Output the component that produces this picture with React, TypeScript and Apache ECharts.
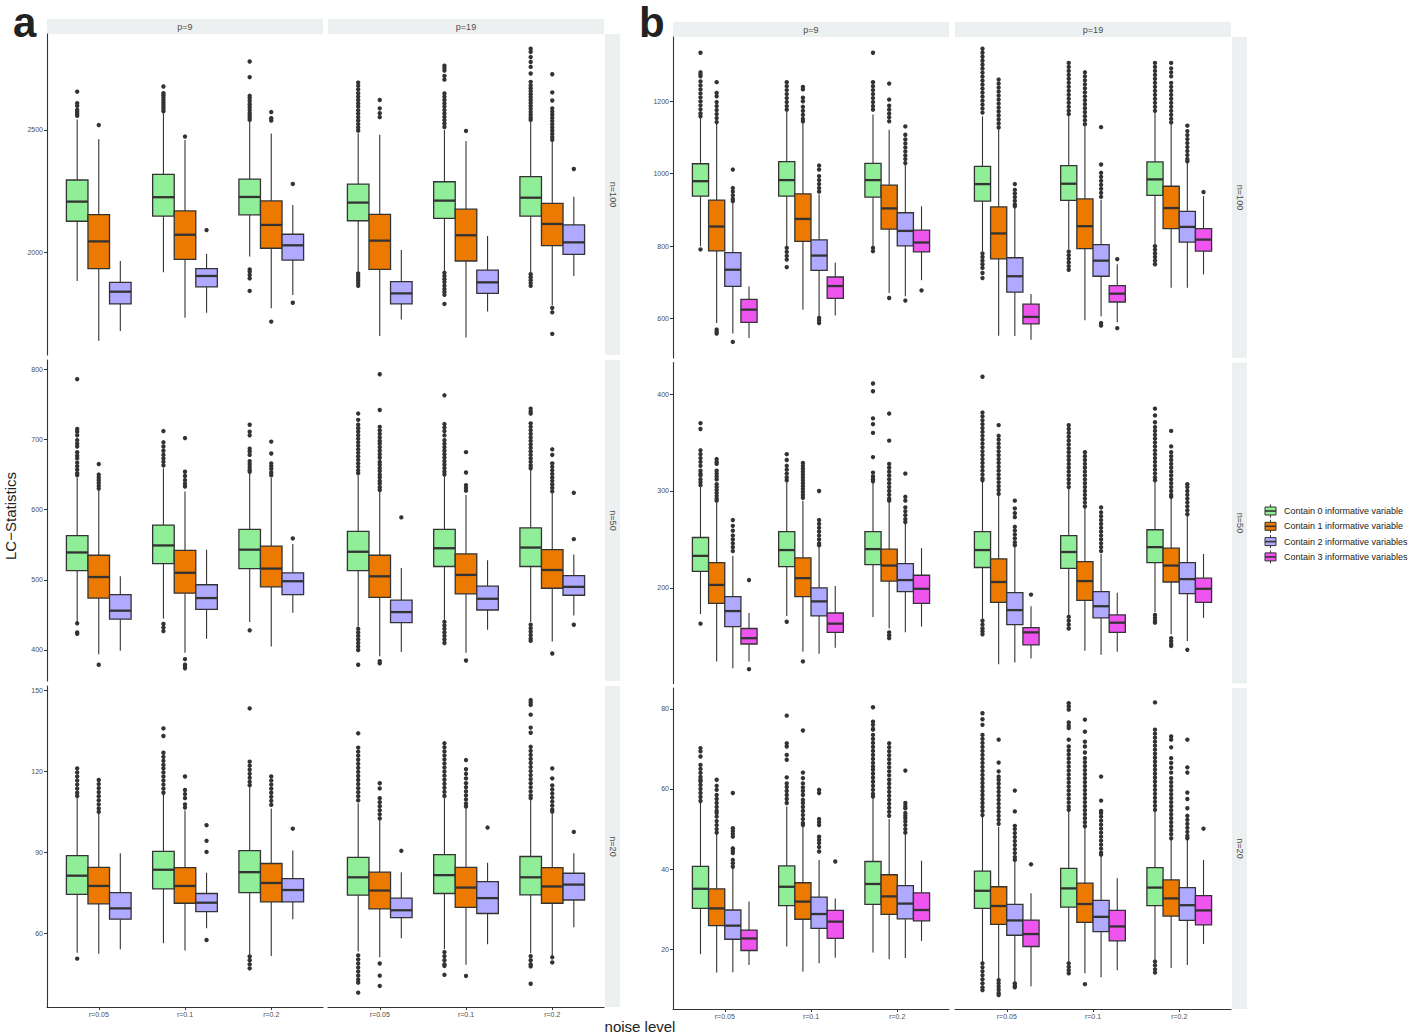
import React, { useEffect, useRef } from "react";
import * as echarts from "echarts";

// ---------------- DATA ----------------
const noiseLevels = ["r=0.05", "r=0.1", "r=0.2"];
const pLabels = ["p=9", "p=19"];
const nLabels = ["n=100", "n=50", "n=20"];
const groupNames = [
  "Contain 0 informative variable",
  "Contain 1 informative variable",
  "Contain 2 informative variables",
  "Contain 3 informative variables",
];
const groupColors = ["#90EE98", "#EC7A00", "#AFAAFF", "#EE55EE"];

const aYRanges = [[1583, 2891], [355.8, 813.3], [32.7, 151.5]];
const bYRanges = [[491.7, 1376.4], [101.2, 432.7], [5.1, 85.2]];
const aYTicks = [[2000, 2500], [400, 500, 600, 700, 800], [60, 90, 120, 150]];
const bYTicks = [[600, 800, 1000, 1200], [200, 300, 400], [20, 40, 60, 80]];

// box = [lower whisker, Q1, median, Q3, upper whisker]; one array per group, one box per noise level
const aN100P9Box = [
  [[1885, 2128, 2208, 2296, 2543], [1920, 2149, 2226, 2319, 2568], [1984, 2154, 2227, 2300, 2534]],
  [[1641, 1935, 2046, 2155, 2462], [1735, 1973, 2073, 2170, 2459], [1773, 2018, 2113, 2211, 2486]],
  [[1681, 1791, 1841, 1879, 1966], [1755, 1861, 1905, 1935, 1995], [1827, 1970, 2030, 2075, 2194]],
];
const aN100P9Out = [
  [[2656, 2609, 2598, 2582, 2574, 2566, 2558], [2677, 2650, 2641, 2632, 2622, 2612, 2603, 2594, 2585, 2576], [2779, 2715, 2639, 2630, 2618, 2605, 2594, 2582, 2570, 2560, 2550, 2541, 1932, 1923, 1909, 1895, 1844]],
  [[2520], [2473], [2573, 2548, 2538, 1719]],
  [[], [2092], [2280, 1796]],
];
const aN100P19Box = [
  [[1923, 2130, 2204, 2279, 2486], [1925, 2140, 2212, 2289, 2500], [1918, 2149, 2224, 2310, 2534]],
  [[1660, 1932, 2049, 2156, 2480], [1654, 1966, 2071, 2177, 2455], [1786, 2029, 2117, 2201, 2453]],
  [[1728, 1791, 1834, 1882, 2011], [1760, 1834, 1879, 1929, 2068], [1905, 1993, 2042, 2113, 2228]],
];
const aN100P19Out = [
  [[2693, 2680, 2665, 2650, 2636, 2622, 2608, 2595, 2580, 2566, 2552, 2538, 2524, 2510, 2497, 1915, 1905, 1895, 1885, 1875, 1865],
   [2762, 2752, 2742, 2720, 2705, 2649, 2636, 2622, 2608, 2595, 2581, 2567, 2553, 2540, 2526, 2512, 1918, 1905, 1892, 1880, 1866, 1852, 1840, 1828, 1791],
   [2831, 2818, 2797, 2777, 2757, 2730, 2696, 2682, 2670, 2658, 2646, 2634, 2622, 2610, 2598, 2586, 2574, 2562, 2550, 2541, 1912, 1900, 1888, 1876, 1865]],
  [[2622, 2588, 2568, 2552], [2496], [2727, 2653, 2620, 2588, 2575, 2562, 2549, 2536, 2523, 2510, 2497, 2484, 2471, 2460, 1775, 1757, 1669]],
  [[], [], [2341]],
];
const aN50P9Box = [
  [[440, 513, 539, 563, 645], [445, 523, 549, 578, 659], [440, 516, 543, 572, 652]],
  [[394, 474, 504, 535, 628], [396, 481, 510, 542, 626], [405, 490, 516, 548, 645]],
  [[399, 444, 456, 479, 505], [416, 458, 474, 493, 543], [453, 479, 498, 510, 551]],
];
const aN50P9Out = [
  [[786, 715, 711, 706, 699, 694, 690, 682, 677, 673, 667, 662, 657, 652, 649, 438, 425, 423], [712, 696, 690, 684, 678, 673, 668, 663, 437, 432, 427], [721, 711, 706, 687, 683, 678, 669, 665, 661, 657, 654, 428]],
  [[665, 650, 646, 642, 638, 634, 630, 379], [702, 654, 648, 642, 637, 633, 387, 379, 376, 374], [697, 680, 666, 662, 658, 653, 649]],
  [[], [], [559]],
];
const aN50P19Box = [
  [[433, 513, 540, 569, 649], [443, 519, 545, 572, 647], [440, 519, 546, 574, 657]],
  [[391, 475, 505, 535, 626], [396, 480, 507, 537, 621], [412, 488, 514, 543, 623]],
  [[397, 439, 454, 471, 517], [429, 457, 473, 491, 528], [449, 478, 490, 506, 536]],
];
const aN50P19Out = [
  [[737, 728, 721, 716, 711, 706, 701, 696, 691, 686, 681, 676, 671, 666, 661, 656, 652, 430, 425, 420, 415, 410, 405, 400, 379],
   [763, 722, 717, 712, 706, 699, 694, 689, 684, 679, 674, 669, 664, 659, 654, 650, 440, 435, 430, 425, 420, 415, 410],
   [744, 740, 737, 723, 718, 713, 708, 703, 698, 693, 688, 683, 678, 673, 668, 663, 659, 436, 431, 426, 421, 416, 413]],
  [[793, 742, 718, 713, 708, 703, 698, 694, 689, 684, 679, 674, 668, 664, 659, 655, 650, 646, 641, 637, 632, 628, 384, 381],
   [682, 653, 635, 631, 627, 385],
   [686, 678, 666, 661, 656, 651, 646, 641, 636, 631, 626, 395]],
  [[589], [], [624, 558, 436]],
];
const aN20P9Box = [
  [[52.8, 74.4, 81.3, 88.7, 110], [56.3, 76.4, 83.5, 90.3, 111.2], [52, 75, 82.6, 90.6, 114.3]],
  [[52.4, 70.9, 77.5, 84.4, 104.4], [53.6, 71.1, 77.5, 84.3, 105.4], [51.6, 71.6, 78.6, 85.8, 106.2]],
  [[54.1, 65.2, 69.2, 75, 89.6], [61.8, 68, 71.3, 74.7, 82.4], [65.2, 71.6, 76, 80.2, 90.6]],
];
const aN20P9Out = [
  [[121, 119.5, 118, 116.5, 115, 113.5, 112, 110.8, 50.6], [135.8, 133, 126.8, 125.3, 123.8, 122.3, 121, 119.5, 118, 116.5, 115, 113.5, 112], [143.2, 123.5, 122, 120.5, 119, 117.5, 116, 114.8, 51.4, 50, 48.5, 47]],
  [[116.7, 115.2, 113.7, 112.2, 110.7, 109.2, 107.7, 106.2, 104.9], [118, 113, 111.5, 110, 107.7, 106.5], [118, 116.5, 115, 113.5, 112, 110.5, 109, 107.5]],
  [[], [100, 94.2, 90.1, 57.5], [98.7]],
];
const aN20P19Box = [
  [[53.2, 74.1, 80.7, 88.1, 108.1], [54.1, 74.7, 81.5, 89.1, 110], [52.6, 74.2, 80.7, 88.4, 109.3]],
  [[51.1, 69, 75.8, 82.6, 101.9], [48.3, 69.6, 76.9, 84.4, 106.2], [51.6, 71.1, 77.3, 84.3, 104.4]],
  [[58.1, 65.8, 68.5, 73, 82.6], [55.9, 67.3, 73, 79.1, 86.1], [62.2, 72.3, 78, 82.2, 89.6]],
];
const aN20P19Out = [
  [[134, 128.7, 127.2, 125.7, 124.2, 122.7, 121.2, 119.7, 118.2, 116.7, 115.2, 113.7, 112.2, 110.7, 109.2, 51.8, 50.3, 48.8, 47.3, 45.8, 44.3, 42.8, 41.7, 38],
   [130.3, 128.8, 127.3, 125.8, 124.3, 122.8, 121.3, 119.8, 118.3, 116.8, 115.3, 113.8, 112.3, 110.8, 53, 51.5, 50, 48.5, 47.9, 44.6],
   [146.3, 145.4, 144.5, 140.9, 136.1, 134.2, 129, 127.5, 126, 124.5, 123, 121.5, 120, 118.5, 117, 115.5, 114, 112.5, 111, 110, 51.5, 50, 48.5, 47.7, 41.3]],
  [[115.5, 113.6, 110, 108.5, 107, 105.5, 104, 102.5, 48.8, 44.3, 40.5],
   [124.1, 120.7, 119, 117.3, 115.5, 114, 112.5, 111, 109.5, 108, 106.9, 44.2],
   [121, 117.3, 114.7, 113.2, 111.7, 110.2, 108.7, 107.2, 105.7, 105, 51.1, 49.2]],
  [[90.5], [99.1], [97.5]],
];
const bN100P9Box = [
  [[800, 938, 979, 1027, 1156], [800, 938, 982, 1033, 1172], [800, 935, 982, 1028, 1163]],
  [[588, 787, 854, 927, 1138], [625, 813, 875, 944, 1140], [671, 847, 904, 968, 1121]],
  [[559, 689, 735, 782, 919], [607, 733, 774, 817, 942], [662, 801, 842, 892, 1025]],
  [[547, 590, 625, 653, 689], [609, 656, 690, 715, 754], [706, 784, 810, 844, 910]],
];
const bN100P9Out = [
  [[1333, 1279, 1273, 1268, 1254, 1243, 1232, 1221, 1210, 1199, 1188, 1177, 1166, 1158, 791], [1252, 1241, 1230, 1219, 1208, 1197, 1186, 1176, 795, 784, 773, 763, 742], [1333, 1252, 1241, 1230, 1219, 1208, 1197, 1186, 1176, 795, 786]],
  [[1252, 1222, 1213, 1197, 1186, 1175, 1164, 1153, 1142, 570, 564, 559], [1239, 1232, 1209, 1199, 1184, 1173, 1162, 1151, 1144], [1248, 1204, 1187, 1176, 1165, 1155, 1144, 657]],
  [[1011, 960, 950, 940, 930, 924, 536], [1022, 1011, 993, 982, 971, 960, 950, 602, 595, 588], [1130, 1107, 1094, 1083, 1072, 1061, 1050, 1040, 1029, 650]],
  [[], [], [678]],
];
const bN100P19Box = [
  [[786, 924, 971, 1020, 1158], [791, 926, 972, 1022, 1158], [804, 940, 984, 1032, 1167]],
  [[553, 765, 835, 908, 1121], [596, 793, 855, 930, 1130], [685, 848, 905, 965, 1138]],
  [[552, 673, 717, 768, 905], [607, 717, 760, 804, 928], [685, 811, 853, 896, 1029]],
  [[542, 586, 605, 640, 668], [590, 646, 669, 691, 750], [722, 786, 818, 848, 938]],
];
const bN100P19Out = [
  [[1344, 1333, 1322, 1311, 1300, 1289, 1278, 1267, 1256, 1245, 1234, 1223, 1212, 1201, 1190, 1179, 1168, 780, 770, 760, 750, 740, 726, 712],
   [1305, 1294, 1283, 1272, 1261, 1250, 1239, 1228, 1217, 1206, 1195, 1184, 1173, 1164, 785, 775, 765, 755, 745, 735],
   [1305, 1294, 1283, 1272, 1261, 1250, 1239, 1228, 1217, 1206, 1195, 1184, 1173, 800, 790, 780, 770, 760, 750]],
  [[1259, 1248, 1237, 1226, 1215, 1204, 1193, 1182, 1171, 1160, 1149, 1138, 1127],
   [1279, 1268, 1257, 1246, 1235, 1224, 1213, 1202, 1191, 1180, 1169, 1158, 1147, 1136],
   [1305, 1290, 1279, 1268, 1250, 1239, 1228, 1217, 1206, 1195, 1184, 1173, 1162, 1151, 1141]],
  [[971, 955, 945, 935, 925, 915, 910], [1128, 1025, 1002, 991, 980, 969, 958, 947, 936, 588, 581], [1132, 1117, 1106, 1095, 1084, 1073, 1062, 1051, 1040, 1034]],
  [[], [764, 574], [949]],
];
const bN50P9Box = [
  [[173, 217, 233, 252, 304], [171, 222, 239, 258, 309], [170, 224, 240, 258, 309]],
  [[124, 184, 203, 226, 288], [134, 191, 210, 231, 290], [158, 207, 223, 240, 289]],
  [[117, 160, 176, 191, 233], [132, 171, 186, 200, 242], [154, 196, 208, 225, 268]],
  [[124, 142, 148, 158, 174], [138, 154, 163, 174, 202], [160, 184, 199, 213, 241]],
];
const bN50P9Out = [
  [[370, 364, 342, 338, 334, 330, 326, 321, 318, 316, 312, 309, 306, 163], [338, 332, 326, 322, 318, 314, 311, 165], [411, 403, 375, 369, 360, 335, 319, 315, 312, 310]],
  [[333, 330, 328, 321, 318, 315, 312, 307, 304, 301, 298, 295, 292, 290], [329, 326, 323, 320, 317, 314, 311, 308, 305, 302, 299, 296, 293, 124], [380, 352, 328, 324, 320, 316, 312, 308, 304, 300, 296, 292, 290, 154, 151, 148]],
  [[270, 264, 259, 254, 250, 246, 242, 238], [300, 270, 266, 262, 258, 254, 250, 246, 244], [318, 294, 290, 283, 279, 275, 271, 268]],
  [[208, 116], [], []],
];
const bN50P19Box = [
  [[168, 221, 239, 258, 310], [171, 220, 237, 254, 303], [175, 226, 242, 260, 309]],
  [[121, 185, 206, 230, 295], [135, 187, 207, 227, 282], [152, 206, 223, 241, 292]],
  [[123, 162, 177, 195, 242], [131, 169, 181, 196, 235], [145, 194, 209, 226, 274]],
  [[127, 141, 154, 159, 181], [134, 154, 164, 172, 195], [169, 185, 199, 210, 235]],
];
const bN50P19Out = [
  [[418, 381, 377, 373, 369, 365, 361, 357, 353, 349, 345, 341, 337, 333, 329, 325, 321, 317, 313, 311, 166, 162, 158, 155, 152],
   [368, 364, 360, 356, 352, 348, 344, 340, 336, 332, 328, 324, 320, 316, 312, 308, 304, 170, 166, 162, 158],
   [385, 378, 371, 366, 362, 358, 354, 350, 346, 342, 338, 334, 330, 326, 322, 318, 314, 311, 172, 169, 166, 164]],
  [[368, 357, 353, 349, 345, 341, 337, 333, 329, 325, 321, 317, 313, 309, 305, 301, 297],
   [340, 336, 332, 328, 324, 320, 316, 312, 308, 304, 300, 296, 292, 288, 284],
   [362, 346, 340, 336, 332, 328, 324, 320, 316, 312, 308, 304, 300, 296, 294, 148, 145, 142, 140]],
  [[290, 282, 277, 273, 263, 259, 255, 251, 247, 244],
   [283, 278, 274, 270, 266, 262, 258, 254, 250, 246, 242, 238],
   [307, 304, 300, 296, 292, 288, 284, 280, 276, 136]],
  [[193], [], []],
];
const bN20P9Box = [
  [[18.8, 30.2, 35.1, 40.7, 56.5], [20.7, 30.9, 35.6, 40.8, 55.6], [19.2, 31.2, 36.3, 41.9, 57.7]],
  [[14.2, 25.9, 30.2, 35.1, 48.8], [14.4, 27.5, 31.9, 36.6, 50.6], [17.5, 28.7, 33.2, 38.6, 52.5]],
  [[14.3, 22.5, 25.9, 29.8, 40.2], [16.5, 25.2, 28.8, 33, 42.3], [17.8, 27.6, 31.4, 35.9, 49]],
  [[16.1, 19.7, 22.7, 24.8, 31.9], [17.9, 22.7, 26.9, 29.7, 32.7], [22.1, 27.1, 29.8, 34.1, 42.1]],
];
const bN20P9Out = [
  [[70.2, 69.4, 68.1, 66, 65, 64, 63, 62.3, 61.9, 61, 60, 59, 58, 57],
   [78.3, 71.4, 70.6, 68.5, 67.3, 62.9, 61.4, 60.5, 59.5, 58.5, 57.5, 56.5],
   [80.4, 76.8, 76, 75, 74.8, 73.5, 72.5, 71.5, 70.5, 69.5, 68.5, 67.5, 66.5, 65.6, 64.8, 63.8, 62.8, 61.8, 60.8, 59.8, 58.8, 58.1]],
  [[62.3, 60.8, 59.8, 58.5, 57.5, 56.5, 55.5, 54.5, 54, 53.1, 52, 51, 50, 49.1],
   [74.6, 64.1, 62.7, 61.4, 60.4, 59.5, 58.5, 57.3, 56.5, 55.5, 54.5, 53.5, 52.5, 51.5, 51],
   [71.4, 70.4, 69.4, 68.4, 67.4, 66.4, 65.4, 64.4, 63.4, 62.3, 61.3, 60.3, 59.3, 58.3, 57.3, 56.3, 55.3, 54.3, 53.3]],
  [[59, 50.2, 49.5, 48.8, 48.1, 45.2, 44.6, 44, 42.3, 41.5, 40.6],
   [59.8, 59, 52.5, 51.7, 51, 48.1, 47.3, 46.5, 45.5, 44.4],
   [64.6, 56.5, 55.8, 55.2, 54, 53.3, 52.7, 51.9, 51, 50, 49.1]],
  [[], [41.9], []],
];
const bN20P19Box = [
  [[16.7, 30.2, 34.6, 39.5, 53.1], [16.9, 30.5, 35.2, 40.2, 54.4], [17.3, 30.9, 35.4, 40.4, 54.4]],
  [[12.8, 26.2, 30.8, 35.6, 50.6], [14, 26.7, 31.3, 36.5, 50.2], [15.3, 28.3, 32.7, 37.3, 47.3]],
  [[11.9, 23.5, 27.2, 31.2, 41.9], [13, 24.4, 28.1, 32.2, 43.3], [16.1, 27.2, 31, 35.4, 47.3]],
  [[10.8, 20.7, 23.8, 27.3, 34], [14.8, 22.1, 25.7, 29.7, 37.7], [21.3, 26.1, 29.7, 33.4, 42.3]],
];
const bN20P19Out = [
  [[78.9, 77.4, 76, 73.5, 72.5, 71.5, 70.5, 69.5, 68.5, 67.5, 66.5, 65.5, 64.5, 63.5, 62.5, 61.5, 60.5, 59.5, 58.5, 57.5, 56.5, 55.5, 54.5, 53.5, 16.5, 15.5, 14.5, 13.5, 12.5, 11.5, 10.5, 9.8],
   [81.4, 80.6, 79.8, 76.6, 75.8, 75.2, 72.3, 70.6, 69.6, 68.6, 67.6, 66.6, 65.6, 64.6, 63.6, 62.6, 61.6, 60.6, 59.6, 58.6, 57.6, 56.6, 55.6, 54.8, 16.5, 15.6, 14.8, 14],
   [81.6, 74.8, 73.8, 72.8, 71.8, 70.8, 69.8, 68.8, 67.8, 66.8, 65.8, 64.8, 63.8, 62.8, 61.8, 60.8, 59.8, 58.8, 57.8, 56.8, 55.8, 54.8, 16.9, 16, 15, 14.2]],
  [[72.3, 66.6, 64.4, 63.1, 62.3, 61.3, 60.3, 59.3, 58.3, 57.3, 56.3, 55.3, 54.3, 53.3, 52.3, 51.3, 12.3, 11.5, 10.7, 9.9, 9.1, 8.6],
   [77.3, 74.3, 71.8, 70.6, 69.1, 67.7, 66.7, 65.7, 64.7, 63.7, 62.7, 61.7, 60.7, 59.7, 58.7, 57.7, 56.7, 55.7, 54.7, 53.7, 52.7, 51.7, 50.7, 11.3],
   [73.1, 72.3, 70.4, 67.7, 66.5, 65.3, 64.1, 62.7, 61.7, 60.7, 59.7, 58.7, 57.7, 56.7, 55.7, 54.7, 53.7, 52.7, 51.7, 50.7, 49.7, 48.7, 47.7]],
  [[59.6, 54.4, 50.8, 50, 49, 48, 47, 46, 45, 44, 43, 42.3, 11.5, 10.9, 10.5],
   [63.1, 57.1, 54.5, 54, 53.1, 52.1, 51.1, 50.1, 49.1, 48.1, 47.1, 46.1, 45.1, 44.1, 43.6],
   [72.3, 65.4, 64.1, 59.1, 57.5, 55.2, 53.3, 52.3, 51.3, 50.3, 49.3, 48.3, 47.7]],
  [[41.2], [], [50.1]],
];

// ---------------- LAYOUT ----------------
const FONT = "'Liberation Sans', Arial, Helvetica, sans-serif";
const FW = 276;
const FH = 321;
const U = FW / 3.2;
const STRIP = "#EDF0F0";
const INK = "#333333";
const PANELS = [
  { colX: [47, 328], rowY: [34, 360, 686], stripY: 19, rightX: 605, letter: "a", letterX: 13, letterY: 22, ranges: aYRanges, ticks: aYTicks, nGroups: 3 },
  { colX: [673, 955], rowY: [37, 362.5, 688], stripY: 22, rightX: 1232, letter: "b", letterX: 639, letterY: 22, ranges: bYRanges, ticks: bYTicks, nGroups: 4 },
];
const facetList = [
  { panel: 0, row: 0, col: 0, box: aN100P9Box, out: aN100P9Out },
  { panel: 0, row: 0, col: 1, box: aN100P19Box, out: aN100P19Out },
  { panel: 0, row: 1, col: 0, box: aN50P9Box, out: aN50P9Out },
  { panel: 0, row: 1, col: 1, box: aN50P19Box, out: aN50P19Out },
  { panel: 0, row: 2, col: 0, box: aN20P9Box, out: aN20P9Out },
  { panel: 0, row: 2, col: 1, box: aN20P19Box, out: aN20P19Out },
  { panel: 1, row: 0, col: 0, box: bN100P9Box, out: bN100P9Out },
  { panel: 1, row: 0, col: 1, box: bN100P19Box, out: bN100P19Out },
  { panel: 1, row: 1, col: 0, box: bN50P9Box, out: bN50P9Out },
  { panel: 1, row: 1, col: 1, box: bN50P19Box, out: bN50P19Out },
  { panel: 1, row: 2, col: 0, box: bN20P9Box, out: bN20P9Out },
  { panel: 1, row: 2, col: 1, box: bN20P19Box, out: bN20P19Out },
];

function boxRenderer(g: number, n: number, color: string) {
  return function (_params: any, api: any) {
    const k = api.value(0);
    const band = api.size([1, 0])[0];
    const w = (band * 0.75) / n;
    const cx = api.coord([k, api.value(3)])[0] + (g - (n - 1) / 2) * w;
    const ys = [1, 2, 3, 4, 5].map((d) => api.coord([k, api.value(d)])[1]);
    const yLo = ys[0], yQ1 = ys[1], yMed = ys[2], yQ3 = ys[3], yHi = ys[4];
    return {
      type: "group",
      children: [
        { type: "line", shape: { x1: cx, y1: yHi, x2: cx, y2: yQ3 }, style: { stroke: INK, lineWidth: 1.1 } },
        { type: "line", shape: { x1: cx, y1: yQ1, x2: cx, y2: yLo }, style: { stroke: INK, lineWidth: 1.1 } },
        { type: "rect", shape: { x: cx - w / 2, y: yQ3, width: w, height: yQ1 - yQ3 }, style: { fill: color, stroke: INK, lineWidth: 1.3 } },
        { type: "line", shape: { x1: cx - w / 2, y1: yMed, x2: cx + w / 2, y2: yMed }, style: { stroke: INK, lineWidth: 2.3 } },
      ],
    };
  };
}

function outRenderer(g: number, n: number) {
  return function (_params: any, api: any) {
    const band = api.size([1, 0])[0];
    const w = (band * 0.75) / n;
    const p = api.coord([api.value(0), api.value(1)]);
    return { type: "circle", shape: { cx: p[0] + (g - (n - 1) / 2) * w, cy: p[1], r: 2.2 }, style: { fill: INK } };
  };
}

function buildOption() {
  const grid: any[] = [];
  const xAxis: any[] = [];
  const yAxis: any[] = [];
  const series: any[] = [];
  const graphic: any[] = [];

  facetList.forEach((f) => {
    const P = PANELS[f.panel];
    const left = P.colX[f.col];
    const top = P.rowY[f.row];
    const range = P.ranges[f.row];
    const ticks = P.ticks[f.row];
    const fi = grid.length;
    const n = P.nGroups;
    grid.push({ left, top, width: FW, height: FH, containLabel: false, outerBoundsMode: "none" });
    grid.push({ left: left + 0.1 * U, top, width: 3 * U, height: FH, containLabel: false, outerBoundsMode: "none" });
    xAxis.push({
      gridIndex: fi, type: "value", min: 0, max: 1,
      axisLine: { show: f.row === 2, onZero: false, lineStyle: { color: INK, width: 1.1 } },
      axisTick: { show: false }, axisLabel: { show: false }, splitLine: { show: false },
    });
    xAxis.push({
      gridIndex: fi + 1, type: "category", data: noiseLevels, boundaryGap: true,
      axisLine: { show: false, onZero: false },
      axisTick: { show: f.row === 2, alignWithLabel: true, length: 3, lineStyle: { color: INK } },
      axisLabel: { show: f.row === 2, fontSize: 7, color: "#4D4D4D", margin: 4, fontFamily: FONT },
      splitLine: { show: false },
    });
    yAxis.push({
      gridIndex: fi, type: "value", min: range[0], max: range[1],
      axisLine: { show: f.col === 0, onZero: false, lineStyle: { color: INK, width: 1.1 } },
      axisTick: { show: f.col === 0, length: 3, customValues: ticks, lineStyle: { color: INK } },
      axisLabel: { show: f.col === 0, customValues: ticks, fontSize: 7, color: "#4D4D4D", margin: 4, fontFamily: FONT, formatter: (v: number) => String(v) },
      splitLine: { show: false },
    });
    yAxis.push({ gridIndex: fi + 1, type: "value", min: range[0], max: range[1], show: false, splitLine: { show: false } });

    for (let g = 0; g < n; g++) {
      series.push({
        type: "custom", name: groupNames[g], xAxisIndex: fi + 1, yAxisIndex: fi + 1, silent: true, z: 2,
        data: f.box[g].map((b: number[], k: number) => [k, b[0], b[1], b[2], b[3], b[4]]),
        encode: { x: 0, y: [1, 2, 3, 4, 5] },
        renderItem: boxRenderer(g, n, groupColors[g]),
      });
      const pts: number[][] = [];
      f.out[g].forEach((vals: number[], k: number) => vals.forEach((v) => pts.push([k, v])));
      series.push({
        type: "custom", name: groupNames[g] + " outliers", xAxisIndex: fi + 1, yAxisIndex: fi + 1, silent: true, z: 3,
        data: pts, encode: { x: 0, y: 1 },
        renderItem: outRenderer(g, n),
      });
    }
  });

  // strips, letters
  PANELS.forEach((P) => {
    P.colX.forEach((x, c) => {
      graphic.push({ type: "rect", silent: true, shape: { x, y: P.stripY, width: FW, height: 15 }, style: { fill: STRIP } });
      graphic.push({ type: "text", silent: true, x: x + FW / 2, y: P.stripY + 7.5, style: { text: pLabels[c], fontSize: 9, fontFamily: FONT, fill: "#4D4D4D", align: "center", verticalAlign: "middle" } });
    });
    P.rowY.forEach((y, r) => {
      graphic.push({ type: "rect", silent: true, shape: { x: P.rightX, y, width: 15, height: FH }, style: { fill: STRIP } });
      graphic.push({ type: "text", silent: true, x: P.rightX + 7.5, y: y + FH / 2, rotation: -Math.PI / 2, style: { text: nLabels[r], fontSize: 9, fontFamily: FONT, fill: "#4D4D4D", align: "center", verticalAlign: "middle" } });
    });
    graphic.push({ type: "text", silent: true, x: P.letterX, y: P.letterY, style: { text: P.letter, fontSize: 42, fontWeight: "bold", fontFamily: FONT, fill: "#222222", align: "left", verticalAlign: "middle" } });
  });

  graphic.push({ type: "text", silent: true, x: 10, y: 516, rotation: Math.PI / 2, style: { text: "LC\u2212Statistics", fontSize: 15, fontFamily: FONT, fill: "#222222", align: "center", verticalAlign: "middle" } });
  graphic.push({ type: "text", silent: true, x: 640, y: 1026, style: { text: "noise level", fontSize: 15, fontFamily: FONT, fill: "#222222", align: "center", verticalAlign: "middle" } });

  // legend
  groupNames.forEach((name, i) => {
    const yc = 511 + i * 15.3;
    const x0 = 1265, kw = 11;
    graphic.push({ type: "line", silent: true, shape: { x1: x0 + kw / 2, y1: yc - 6.5, x2: x0 + kw / 2, y2: yc + 6.5 }, style: { stroke: INK, lineWidth: 1 } });
    graphic.push({ type: "rect", silent: true, shape: { x: x0, y: yc - 4, width: kw, height: 8 }, style: { fill: groupColors[i], stroke: INK, lineWidth: 1 } });
    graphic.push({ type: "line", silent: true, shape: { x1: x0, y1: yc, x2: x0 + kw, y2: yc }, style: { stroke: INK, lineWidth: 1.6 } });
    graphic.push({ type: "text", silent: true, x: 1284, y: yc, style: { text: name, fontSize: 9, fontFamily: FONT, fill: "#222222", align: "left", verticalAlign: "middle" } });
  });

  return {
    animation: false,
    backgroundColor: "#FFFFFF",
    textStyle: { fontFamily: FONT },
    grid, xAxis, yAxis, series, graphic,
  };
}

export default function App() {
  const ref = useRef<HTMLDivElement>(null);
  useEffect(() => {
    document.body.style.margin = "0";
    if (!ref.current) return;
    const chart = echarts.init(ref.current, null, { renderer: "svg" });
    chart.setOption(buildOption() as any);
    return () => chart.dispose();
  }, []);
  return <div ref={ref} style={{ width: 1419, height: 1036 }} />;
}
